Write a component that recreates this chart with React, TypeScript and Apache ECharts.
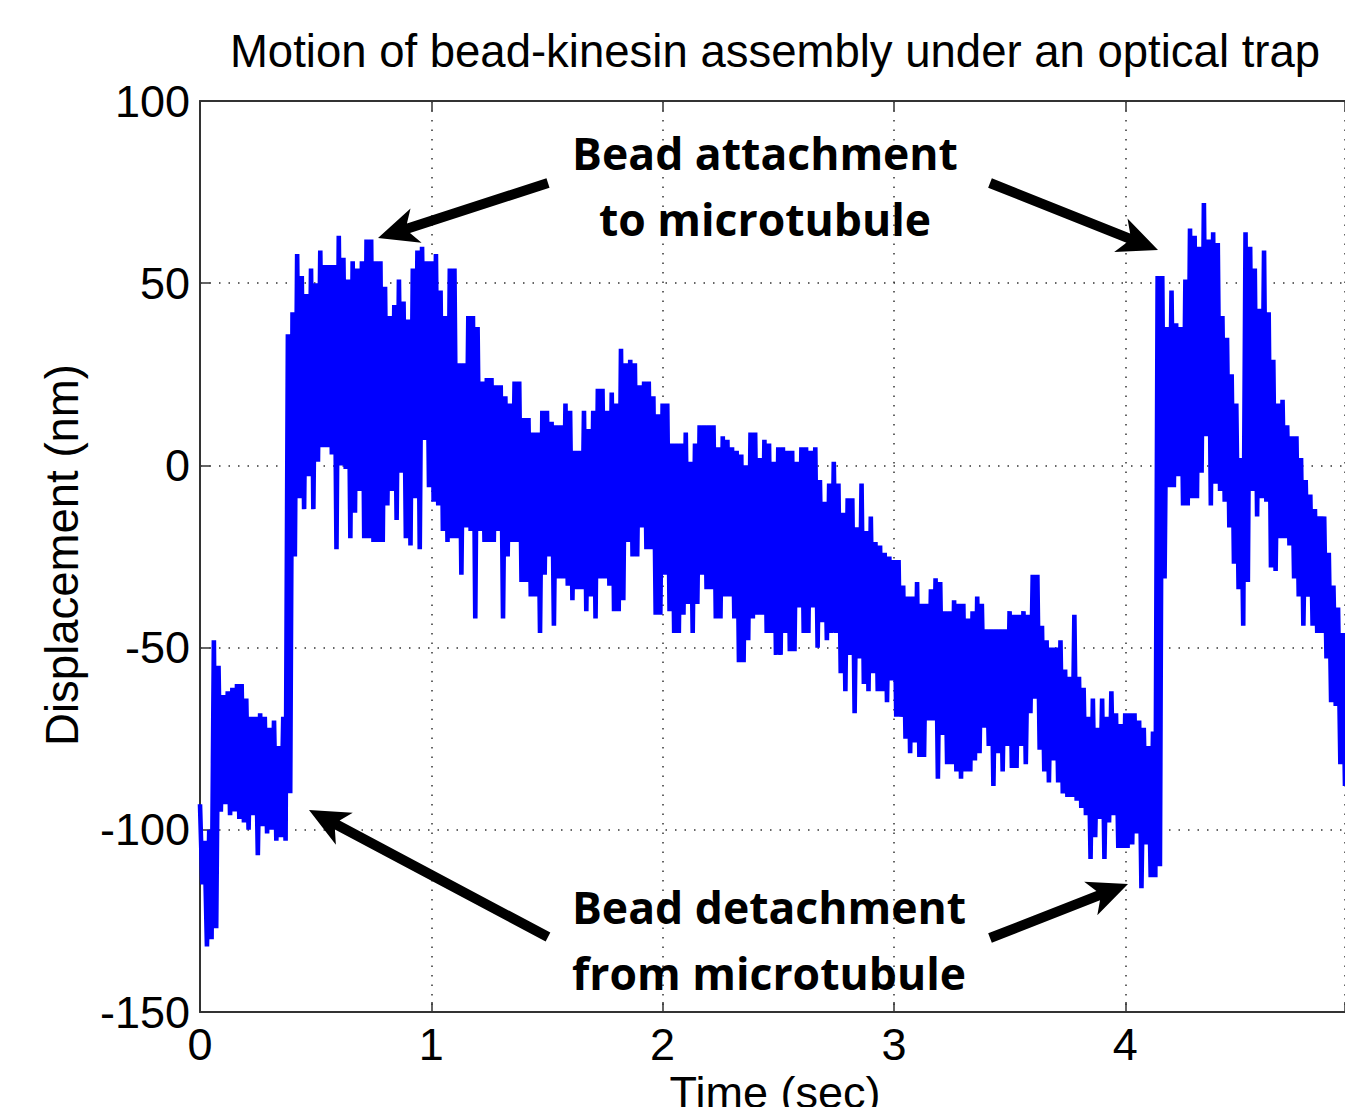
import React, { useEffect, useRef } from "react";
import * as echarts from "echarts";

// Sampling step of the trace (seconds). Upper envelope value at t = i*step,
// lower envelope value at t = i*step + step/2.
const sampleStep = 0.02;

const upperEnvelope = [
  -93, -103, -100, -48, -55, -63, -62, -61, -60, -60,
  -64, -69, -69, -68, -69, -72, -70, -77, -69, 36,
  42, 58, 52, 47, 54, 50, 59, 55, 55, 55,
  63, 57, 51, 56, 54, 56, 62, 62, 56, 56,
  49, 41, 44, 51, 45, 40, 54, 59, 60, 56,
  56, 58, 48, 41, 54, 54, 28, 28, 41, 41,
  38, 23, 24, 24, 22, 22, 19, 17, 23, 23,
  13, 13, 9, 9, 15, 15, 12, 11, 11, 17,
  15, 4, 4, 15, 10, 15, 21, 21, 15, 20,
  17, 32, 28, 29, 28, 22, 23, 23, 19, 14,
  17, 17, 6, 6, 6, 9, 1, 6, 11, 11,
  11, 11, 5, 8, 7, 5, 4, 3, 0, 9,
  9, 2, 7, 6, 1, 5, 5, 4, 4, 1,
  5, 5, 4, 5, -4, -10, -5, 1, -5, -13,
  -9, -9, -17, -5, -18, -14, -21, -22, -24, -25,
  -26, -26, -33, -36, -36, -32, -38, -38, -34, -31,
  -32, -40, -40, -37, -38, -38, -42, -40, -36, -38,
  -45, -45, -45, -45, -45, -40, -41, -41, -40, -41,
  -30, -30, -44, -48, -50, -50, -48, -56, -58, -41,
  -58, -61, -69, -64, -72, -64, -69, -62, -68, -71,
  -68, -68, -68, -70, -72, -77, -73, 52, 52, 38,
  48, 39, 38, 51, 65, 63, 60, 72, 62, 64,
  61, 41, 35, 25, 17, 2, 64, 60, 54, 43,
  59, 42, 29, 17, 18, 11, 8, 8, 2, -4,
  -8, -12, -14, -14, -24, -33, -39, -46,
];

const lowerEnvelope = [
  -115, -132, -130, -127, -95, -93, -96, -95, -97, -98,
  -100, -96, -107, -99, -101, -100, -103, -102, -103, -90,
  -25, -9, -12, -3, -12, 1, 5, 5, 3, -23,
  0, -1, -20, -13, -7, -20, -20, -21, -21, -21,
  -11, -7, -15, -2, -20, -22, -9, -23, 7, -6,
  -10, -11, -18, -21, -20, -20, -30, -17, -18, -42,
  -18, -21, -21, -21, -18, -42, -25, -21, -21, -32,
  -32, -36, -36, -46, -30, -25, -44, -31, -31, -33,
  -37, -34, -34, -40, -36, -42, -31, -31, -33, -40,
  -40, -37, -21, -25, -25, -17, -23, -23, -41, -41,
  -30, -40, -46, -46, -41, -38, -46, -38, -30, -34,
  -34, -42, -42, -36, -36, -42, -54, -54, -48, -42,
  -41, -41, -46, -46, -52, -52, -46, -51, -51, -39,
  -46, -46, -39, -50, -43, -48, -46, -46, -57, -62,
  -52, -68, -53, -60, -62, -57, -62, -62, -65, -59,
  -69, -69, -75, -79, -76, -80, -80, -70, -70, -86,
  -74, -82, -82, -84, -86, -84, -84, -81, -79, -72,
  -77, -88, -79, -84, -77, -83, -83, -77, -82, -68,
  -64, -78, -84, -87, -81, -87, -90, -91, -91, -92,
  -94, -96, -108, -102, -97, -108, -98, -96, -105, -105,
  -105, -104, -101, -116, -104, -113, -113, -110, -31, -6,
  -6, -3, -11, -11, -9, -9, -2, 8, -11, -5,
  -7, -10, -17, -27, -34, -44, -32, -7, -14, -9,
  -10, -28, -29, -20, -20, -22, -31, -36, -44, -36,
  -44, -46, -46, -53, -65, -66, -82, -88,
];

const xTicks = [0, 1, 2, 3, 4];
const yTicks = [-150, -100, -50, 0, 50, 100];

const titleText = "Motion of bead-kinesin assembly under an optical trap";
const xTitle = "Time (sec)";
const yTitle = "Displacement (nm)";
const attachLines = ["Bead attachment", "to microtubule"];
const detachLines = ["Bead detachment", "from microtubule"];

function arrowPoints(tail: number[], tip: number[]) {
  const shaftW = 10;
  const headLen = 40;
  const headHalf = 18;
  const notch = 8;
  const dx = tip[0] - tail[0];
  const dy = tip[1] - tail[1];
  const len = Math.sqrt(dx * dx + dy * dy);
  const ux = dx / len;
  const uy = dy / len;
  const nx = -uy;
  const ny = ux;
  const bx = tip[0] - ux * headLen;
  const by = tip[1] - uy * headLen;
  const sx = tip[0] - ux * (headLen - notch);
  const sy = tip[1] - uy * (headLen - notch);
  const h = shaftW / 2;
  return [
    [tail[0] + nx * h, tail[1] + ny * h],
    [sx + nx * h, sy + ny * h],
    [bx + nx * headHalf, by + ny * headHalf],
    [tip[0], tip[1]],
    [bx - nx * headHalf, by - ny * headHalf],
    [sx - nx * h, sy - ny * h],
    [tail[0] - nx * h, tail[1] - ny * h],
  ];
}

export default function App() {
  const ref = useRef<HTMLDivElement>(null);

  useEffect(() => {
    if (!ref.current) return;
    const chart = echarts.init(ref.current, undefined, { renderer: "svg" });

    const traceData: number[][] = [];
    for (let i = 0; i < upperEnvelope.length; i++) {
      const t = i * sampleStep;
      traceData.push([t, upperEnvelope[i]]);
      traceData.push([t + sampleStep / 2, lowerEnvelope[i]]);
    }

    const axisFont = "'Liberation Sans', Arial, sans-serif";
    const noteFont = "'Open Sans', 'DejaVu Sans', sans-serif";
    const gridLine = { show: true, lineStyle: { color: "#333", width: 1.5, type: [1.5, 8] as any } };

    const arrows = [
      arrowPoints([548, 183], [378, 238]),
      arrowPoints([990, 183], [1158, 250]),
      arrowPoints([548, 937], [309, 810]),
      arrowPoints([990, 938], [1128, 884]),
    ];

    chart.setOption({
      animation: false,
      backgroundColor: "#ffffff",
      grid: { left: 200, top: 101, right: 0, bottom: 95, containLabel: false },
      xAxis: [
        {
          type: "value",
          min: 0,
          max: 4.95,
          interval: 1,
          position: "bottom",
          axisLine: { show: true, onZero: false, lineStyle: { color: "#333", width: 2 } },
          axisTick: { show: true, inside: true, length: 10, lineStyle: { color: "#333", width: 1.5 } },
          axisLabel: {
            show: true,
            margin: 10,
            fontSize: 45,
            color: "#000",
            fontFamily: axisFont,
            customValues: xTicks,
            formatter: (v: number) => String(v),
          },
          splitLine: gridLine,
        },
        {
          type: "value",
          min: 0,
          max: 4.95,
          interval: 1,
          position: "top",
          axisLine: { show: true, onZero: false, lineStyle: { color: "#333", width: 2 } },
          axisTick: { show: true, inside: true, length: 10, lineStyle: { color: "#333", width: 1.5 } },
          axisLabel: { show: false },
          splitLine: { show: false },
        },
      ],
      yAxis: [
        {
          type: "value",
          min: -150,
          max: 100,
          interval: 50,
          position: "left",
          axisLine: { show: true, onZero: false, lineStyle: { color: "#333", width: 2 } },
          axisTick: { show: true, inside: true, length: 10, lineStyle: { color: "#333", width: 1.5 } },
          axisLabel: {
            show: true,
            margin: 10,
            fontSize: 45,
            color: "#000",
            fontFamily: axisFont,
            customValues: yTicks,
            formatter: (v: number) => String(v),
          },
          splitLine: gridLine,
        },
      ],
      series: [
        {
          type: "line",
          data: traceData,
          showSymbol: false,
          symbol: "none",
          lineStyle: { color: "#0000ff", width: 4.6, join: "bevel" },
          z: 3,
        },
      ],
      graphic: [
        {
          type: "text",
          x: 775,
          y: 51,
          style: {
            text: titleText,
            font: `45.5px ${axisFont}`,
            fill: "#000",
            align: "center",
            verticalAlign: "middle",
          },
        },
        {
          type: "text",
          x: 775,
          y: 1092,
          style: {
            text: xTitle,
            font: `45px ${axisFont}`,
            fill: "#000",
            align: "center",
            verticalAlign: "middle",
          },
        },
        {
          type: "text",
          x: 62,
          y: 555,
          rotation: Math.PI / 2,
          style: {
            text: yTitle,
            font: `45.5px ${axisFont}`,
            fill: "#000",
            align: "center",
            verticalAlign: "middle",
          },
        },
        ...attachLines.map((line, i) => ({
          type: "text",
          x: 765,
          y: 152 + i * 66,
          z: 10,
          style: {
            text: line,
            font: `bold 44.5px ${noteFont}`,
            fill: "#000",
            align: "center",
            verticalAlign: "middle",
          },
        })),
        ...detachLines.map((line, i) => ({
          type: "text",
          x: 769,
          y: 906 + i * 66,
          z: 10,
          style: {
            text: line,
            font: `bold 44.5px ${noteFont}`,
            fill: "#000",
            align: "center",
            verticalAlign: "middle",
          },
        })),
        ...arrows.map((pts) => ({
          type: "polygon",
          z: 10,
          shape: { points: pts },
          style: { fill: "#000" },
        })),
      ],
    });

    return () => chart.dispose();
  }, []);

  return (
    <div
      ref={ref}
      style={{ position: "fixed", left: 0, top: 0, width: 1345, height: 1107, background: "#fff" }}
    />
  );
}
